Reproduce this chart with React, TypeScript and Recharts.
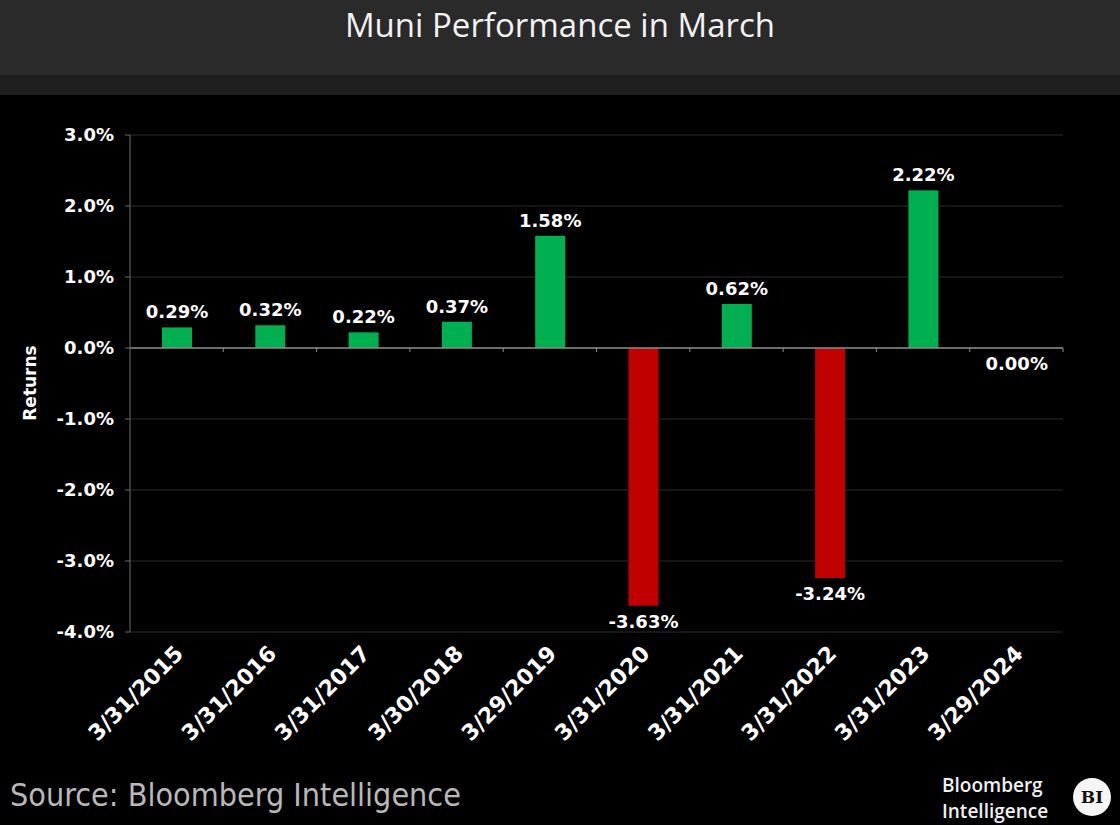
import { Bar, BarChart, CartesianGrid, ReferenceLine, XAxis, YAxis } from "recharts";

const dates = [
  "3/31/2015",
  "3/31/2016",
  "3/31/2017",
  "3/30/2018",
  "3/29/2019",
  "3/31/2020",
  "3/31/2021",
  "3/31/2022",
  "3/31/2023",
  "3/29/2024",
];
const returns = [0.29, 0.32, 0.22, 0.37, 1.58, -3.63, 0.62, -3.24, 2.22, 0.0];
const yTicks = [-4, -3, -2, -1, 0, 1, 2, 3];

const data = dates.map((date, i) => ({ date, value: returns[i] }));

const GREEN = "#00b050";
const RED = "#c00000";
const tickFont = "'DejaVu Sans', Verdana, sans-serif";

// bar rect plus its value label (drawn here so the 0.00% bar still gets one)
function BarWithLabel(props: any) {
  const { x, y, width, height, value } = props;
  const v = Array.isArray(value) ? value[1] - value[0] : value;
  const top = Math.min(y, y + height);
  const bottom = Math.max(y, y + height);
  const cx = x + width / 2;
  const below = v <= 0;
  const ty = below ? bottom + 22 : top - 9;
  return (
    <g>
      {bottom - top > 0 && (
        <rect x={x} y={top} width={width} height={bottom - top} fill={v < 0 ? RED : GREEN} />
      )}
      <text
        x={cx}
        y={ty}
        textAnchor="middle"
        fill="#ffffff"
        fontFamily={tickFont}
        fontWeight="bold"
        fontSize={18}
      >
        {`${v.toFixed(2)}%`}
      </text>
    </g>
  );
}

function DateTick(props: any) {
  const { x, y, payload } = props;
  const ax = x + 8;
  const ay = y + 15;
  return (
    <text
      x={ax}
      y={ay}
      textAnchor="end"
      fill="#ffffff"
      fontFamily={tickFont}
      fontWeight="bold"
      fontSize={22}
      transform={`rotate(-45 ${ax} ${ay})`}
    >
      {payload.value}
    </text>
  );
}

function ZeroAxis(props: any) {
  const { x1, x2, y1 } = props;
  const n = dates.length;
  const step = (x2 - x1) / n;
  const marks = Array.from({ length: n }, (_, i) => x1 + step * (i + 1));
  return (
    <g>
      <line x1={x1} x2={x2} y1={y1} y2={y1} stroke="#8a8a8a" strokeWidth={1.5} />
      {marks.map((mx) => (
        <line key={mx} x1={mx} x2={mx} y1={y1} y2={y1 + 4} stroke="#8a8a8a" strokeWidth={1} />
      ))}
    </g>
  );
}

export default function App() {
  return (
    <div
      style={{
        position: "absolute",
        left: 0,
        top: 0,
        width: 1120,
        height: 825,
        background: "#000000",
        overflow: "hidden",
      }}
    >
      <div
        style={{
          height: 75,
          background: "#2a2a2a",
          color: "#f2f2f2",
          fontFamily: "'Open Sans', 'Noto Sans', sans-serif",
          fontSize: 33,
          textAlign: "center",
          lineHeight: "50px",
        }}
      >
        Muni Performance in March
      </div>
      <div style={{ height: 20, background: "#1e1e1e" }} />
      <BarChart
        width={1120}
        height={730}
        data={data}
        margin={{ top: 40, right: 57, bottom: 73, left: 0 }}
        barSize={30}
      >
        <CartesianGrid vertical={false} stroke="#1c1c1c" strokeWidth={1.5} />
        <XAxis
          dataKey="date"
          height={120}
          axisLine={false}
          tickLine={false}
          interval={0}
          tick={<DateTick />}
        />
        <YAxis
          width={130}
          domain={[-4, 3]}
          ticks={yTicks}
          tickFormatter={(v: number) => `${v.toFixed(1)}%`}
          axisLine={{ stroke: "#6a6a6a" }}
          tickLine={{ stroke: "#6a6a6a" }}
          tickSize={5}
          tickMargin={11}
          tick={{ fill: "#ffffff", fontFamily: tickFont, fontWeight: "bold", fontSize: 18 }}
        />
        <ReferenceLine y={0} shape={<ZeroAxis />} />
        <Bar dataKey="value" isAnimationActive={false} shape={<BarWithLabel />} />
      </BarChart>
      <div
        style={{
          position: "absolute",
          left: 30,
          top: 383,
          transform: "translate(-50%, -50%) rotate(-90deg)",
          color: "#ffffff",
          fontFamily: tickFont,
          fontWeight: "bold",
          fontSize: 17,
          whiteSpace: "nowrap",
        }}
      >
        Returns
      </div>
      <div
        style={{
          position: "absolute",
          left: 10,
          top: 776,
          color: "#b8b8b8",
          fontFamily: "'DejaVu Sans Condensed', 'DejaVu Sans', sans-serif",
          fontSize: 32,
          whiteSpace: "nowrap",
        }}
      >
        Source: Bloomberg Intelligence
      </div>
      <div
        style={{
          position: "absolute",
          left: 942,
          top: 775,
          color: "#f0f0f0",
          fontFamily: "'Open Sans', 'Noto Sans', sans-serif",
          fontWeight: 600,
          fontSize: 19,
          lineHeight: "20px",
        }}
      >
        Bloomberg
      </div>
      <div
        style={{
          position: "absolute",
          left: 942,
          top: 801,
          color: "#f0f0f0",
          fontFamily: "'Open Sans', 'Noto Sans', sans-serif",
          fontWeight: 600,
          fontSize: 19,
          lineHeight: "20px",
        }}
      >
        Intelligence
      </div>
      <div
        style={{
          position: "absolute",
          left: 1073,
          top: 778,
          width: 38,
          height: 38,
          borderRadius: "50%",
          background: "#f5f5f5",
          color: "#111",
          fontFamily: "'DejaVu Serif', serif",
          fontWeight: "bold",
          fontSize: 17,
          lineHeight: "38px",
          textAlign: "center",
        }}
      >
        BI
      </div>
    </div>
  );
}
